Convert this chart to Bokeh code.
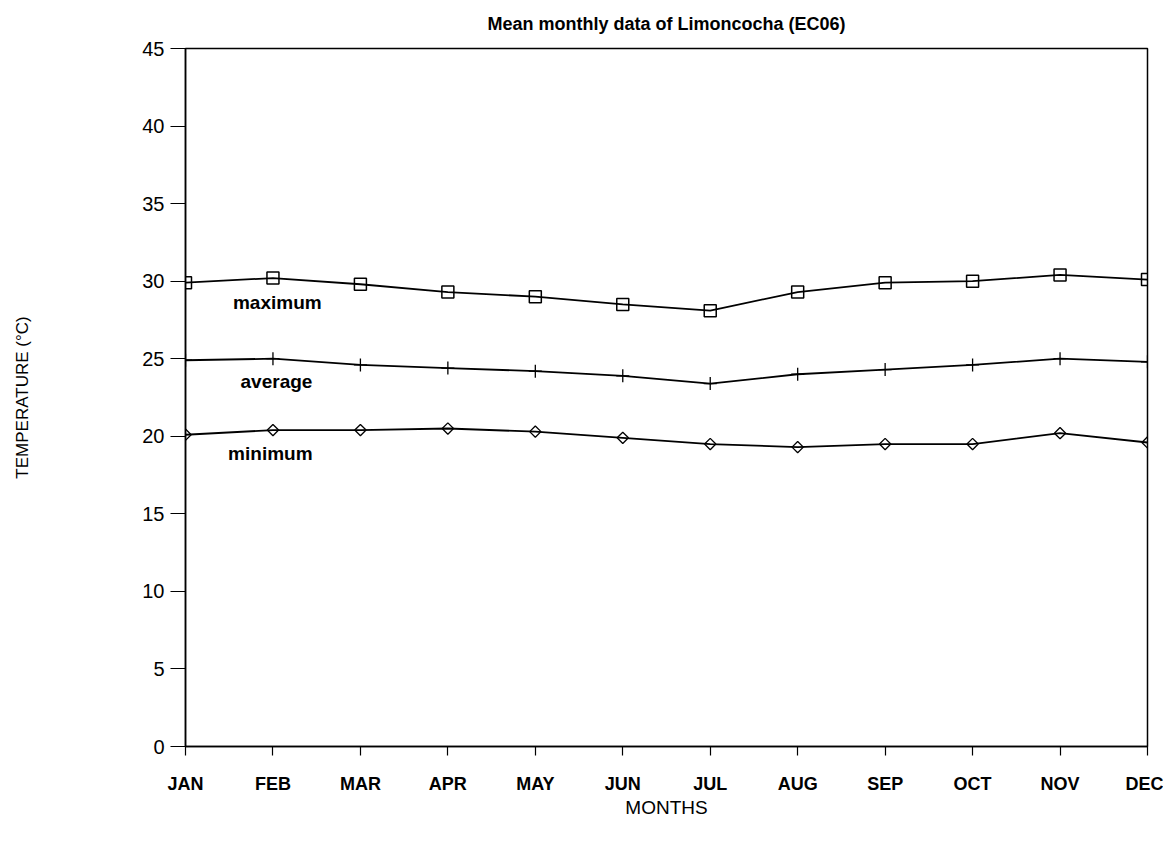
import numpy as np
from bokeh.plotting import figure
from bokeh.models import Range1d, FixedTicker
from bokeh.core.properties import value
from bokeh.embed import file_html
from bokeh.resources import INLINE

months = ["JAN", "FEB", "MAR", "APR", "MAY", "JUN", "JUL", "AUG", "SEP", "OCT", "NOV", "DEC"]
t_max = [29.9, 30.2, 29.8, 29.3, 29.0, 28.5, 28.1, 29.3, 29.9, 30.0, 30.4, 30.1]
t_avg = [24.9, 25.0, 24.6, 24.4, 24.2, 23.9, 23.4, 24.0, 24.3, 24.6, 25.0, 24.8]
t_min = [20.1, 20.4, 20.4, 20.5, 20.3, 19.9, 19.5, 19.3, 19.5, 19.5, 20.2, 19.6]
y_ticks = [0, 5, 10, 15, 20, 25, 30, 35, 40, 45]
TITLE = "Mean monthly data of Limoncocha (EC06)"

x = list(range(len(months)))
FONT = "Liberation Sans"

p = figure(width=1163, height=835, output_backend="svg", toolbar_location=None,
           x_range=Range1d(0, 11), y_range=Range1d(0, 45),
           min_border_left=185, min_border_right=16, min_border_top=48, min_border_bottom=89,
           title=TITLE)

p.title.align = "center"
p.title.vertical_align = "top"
p.title.text_font = FONT
p.title.text_font_size = "18px"
p.title.text_font_style = "bold"
p.title.text_color = "black"
p.title.standoff = 26

p.xgrid.visible = False
p.ygrid.visible = False
p.outline_line_color = "black"
p.outline_line_width = 1.5
p.background_fill_color = "white"

# axes
p.xaxis.ticker = FixedTicker(ticks=x)
p.xaxis.major_label_overrides = {i: m for i, m in enumerate(months)}
p.xaxis.major_tick_in = 0
p.xaxis.major_tick_out = 9
p.xaxis.minor_tick_line_color = None
p.xaxis.major_label_standoff = 18
p.xaxis.major_label_text_font = FONT
p.xaxis.major_label_text_font_size = "18px"
p.xaxis.major_label_text_font_style = "bold"
p.xaxis.axis_label = "MONTHS"
p.xaxis.axis_label_text_font = FONT
p.xaxis.axis_label_text_font_size = "19px"
p.xaxis.axis_label_text_font_style = "normal"
p.xaxis.axis_label_standoff = 0

p.yaxis.ticker = FixedTicker(ticks=y_ticks)
p.yaxis.major_tick_in = 0
p.yaxis.major_tick_out = 15
p.yaxis.minor_tick_line_color = None
p.yaxis.major_label_standoff = 6
p.yaxis.major_label_text_font = FONT
p.yaxis.major_label_text_font_size = "20px"
p.yaxis.axis_label = "TEMPERATURE (°C)"
p.yaxis.axis_label_text_font = FONT
p.yaxis.axis_label_text_font_size = "17px"
p.yaxis.axis_label_text_font_style = "normal"
p.yaxis.axis_label_standoff = 107

for ax in (p.xaxis, p.yaxis):
    ax.axis_line_color = "black"
    ax.axis_line_width = 1.5
    ax.major_tick_line_color = "black"
    ax.major_tick_line_width = 1.2
    ax.major_label_text_color = "black"
    ax.axis_label_text_color = "black"

# series
p.line(x, t_max, line_color="black", line_width=1.8)
p.scatter(x, t_max, marker="square", size=12, fill_color=None, line_color="black", line_width=1.5)

p.line(x, t_avg, line_color="black", line_width=1.8)
p.scatter(x, t_avg, marker="cross", size=13, line_color="black", line_width=1.3)

p.line(x, t_min, line_color="black", line_width=1.8)
p.scatter(x, t_min, marker="square", angle=np.pi / 4, size=8, fill_color=None,
          line_color="black", line_width=1.3)

# series labels
p.text(x=[1.05, 1.04, 0.97], y=[28.6, 23.5, 18.9], text=["maximum", "average", "minimum"],
       text_font=value(FONT), text_font_size="19px", text_font_style="bold",
       text_align="center", text_baseline="middle", text_color="black")

open("out.html", "w").write(file_html(p, INLINE))
